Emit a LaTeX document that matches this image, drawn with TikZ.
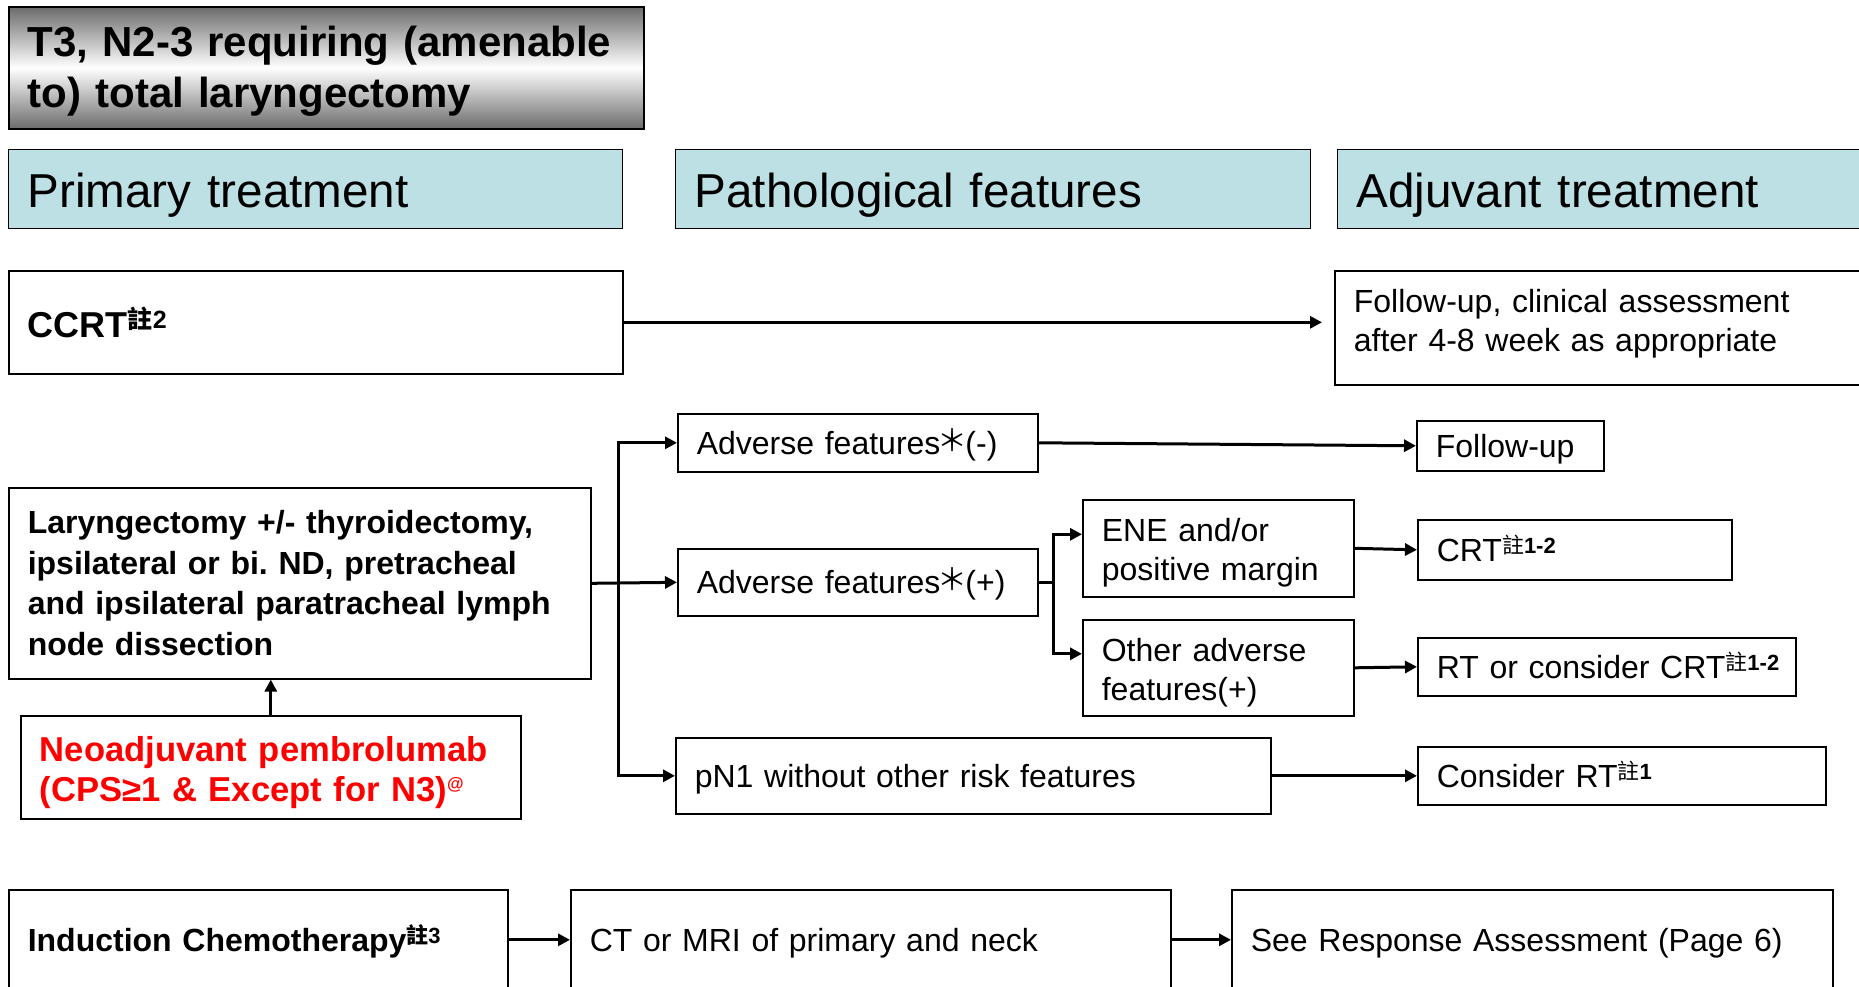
\documentclass[tikz,border=0pt]{standalone}
\usepackage{fontspec}
\setmainfont{Liberation Sans}
\newfontfamily\cjk{Noto Sans CJK TC}
\usetikzlibrary{arrows.meta}
\definecolor{hdrblue}{HTML}{BCE0E4}
\definecolor{neored}{HTML}{FF0000}
% small note mark used after several treatments
\newcommand\zhu[2]{\raisebox{0.25em}{\fontsize{#1}{#1}\selectfont{\cjk 註}\textbf{#2}}}
\newcommand\fwast{\makebox[25pt]{\cjk\fontsize{30}{30}\selectfont\raisebox{3pt}{＊}}}

\begin{document}
\begin{tikzpicture}[x=1pt,y=-1pt,>={Triangle[length=12pt,width=12pt]},
  box/.style={draw,line width=1.6pt,anchor=north west,inner xsep=19pt,inner ysep=0pt,align=left,font=\fontsize{32}{39}\selectfont},
  one/.style={text height=30pt,text depth=6.7pt},
  bbox/.style={box,font=\fontsize{32}{40.5}\selectfont\bfseries},
  hdr/.style={box,line width=1.4pt,fill=hdrblue,text height=46pt,text depth=10pt,font=\fontsize{47.6}{50}\selectfont},
  arr/.style={->,line width=3pt}]
\useasboundingbox (0,0) rectangle (1859,986);
\clip (0,0) rectangle (1859,986);
\fill[white] (0,0) rectangle (1859,986);
% title and column headers
\node[box,text width=597,minimum height=122,inner ysep=3pt,font=\fontsize{42}{51}\selectfont\bfseries,top color=black!58,bottom color=black!58,middle color=white] (t) at (8,6) {\rule{0pt}{38pt}T3, N2-3 requiring (amenable\\to) total laryngectomy};
\node[hdr,text width=576,minimum height=79] (h1) at (8,149) {Primary treatment};
\node[hdr,text width=597,minimum height=79] (h2) at (675,149) {Pathological features};
\node[hdr,text width=500,minimum height=79] (h3) at (1337,149) {Adjuvant treatment};
% primary treatment
\node[box,text width=576,minimum height=103,font=\fontsize{36}{40}\selectfont\bfseries] (cc) at (8,270) {CCRT\zhu{25}{2}};
\node[box,text width=503,minimum height=114] (fc) at (1334,270) {Follow-up, clinical assessment\\after 4-8 week as appropriate\rule[-0.45em]{0pt}{0pt}};
\node[bbox,text width=544,minimum height=191] (lx) at (8,487) {Laryngectomy +/- thyroidectomy,\\ipsilateral or bi.\ ND, pretracheal\\and ipsilateral paratracheal lymph\\node dissection};
\node[box,text width=462,minimum height=103,font=\fontsize{34.6}{40.3}\selectfont\bfseries,text=neored] (neo) at (20,715) {\rule{0pt}{35pt}Neoadjuvant pembrolumab\\(CPS≥1 \& Except for N3)\raisebox{0.35em}{\fontsize{17}{17}\selectfont @}};
% pathological features
\node[box,one,text width=322,minimum height=58] (am) at (677,413) {Adverse features\fwast(-)};
\node[box,one,text width=322,minimum height=67] (ap) at (677,548) {Adverse features\fwast(+)};
\node[box,one,text width=557,minimum height=76] (pn) at (675,737) {pN1 without other risk features};
\node[box,text width=233,minimum height=97] (en) at (1082,499) {\rule{0pt}{33pt}ENE and/or\\positive margin};
\node[box,text width=233,minimum height=96] (ot) at (1082,619) {\rule{0pt}{33pt}Other adverse\\features(+)};
% adjuvant treatment
\node[box,one,text width=149,minimum height=50] (fu) at (1416,420) {Follow-up};
\node[box,one,text width=276,minimum height=60] (cr) at (1417,519) {CRT\zhu{22}{1-2}};
\node[box,one,text width=340,minimum height=58] (rt) at (1417,637) {\mbox{RT or consider CRT\zhu{22}{1-2}}};
\node[box,one,text width=370,minimum height=58] (cx) at (1417,746) {Consider RT\zhu{22}{1}};
% induction row
\node[bbox,one,text width=461,minimum height=100] (ic) at (8,889) {Induction Chemotherapy\zhu{22}{3}};
\node[box,one,text width=562,minimum height=100] (ct) at (570,889) {CT or MRI of primary and neck};
\node[box,one,text width=563,minimum height=100] (sr) at (1231,889) {See Response Assessment (Page 6)};
% connectors
\coordinate (b1) at (618,0);
\coordinate (b2) at (1053,0);
\draw[arr,shorten >=12pt] (cc.east) -- (cc.east -| fc.west);
\draw[arr] (neo) -- (neo |- lx.south);
\draw[arr] (lx.east -| b1) |- (am.west);
\draw[arr] (lx.east -| b1) |- (pn.west);
\draw[arr] (lx.east) -- (ap.west);
\draw[line width=3pt] (ap.east) -- (ap.east -| b2);
\draw[arr] (ap.east -| b2) |- ([yshift=14pt]en.west);
\draw[arr] (ap.east -| b2) |- ([yshift=14pt]ot.west);
\draw[arr] (am.east) -- (fu.west);
\draw[arr] (en.east) -- (cr.west);
\draw[arr] (ot.east) -- (rt.west);
\draw[arr] (pn.east) -- (cx.west);
\draw[arr] (ic) -- (ct);
\draw[arr] (ct) -- (sr);
\end{tikzpicture}
\end{document}
